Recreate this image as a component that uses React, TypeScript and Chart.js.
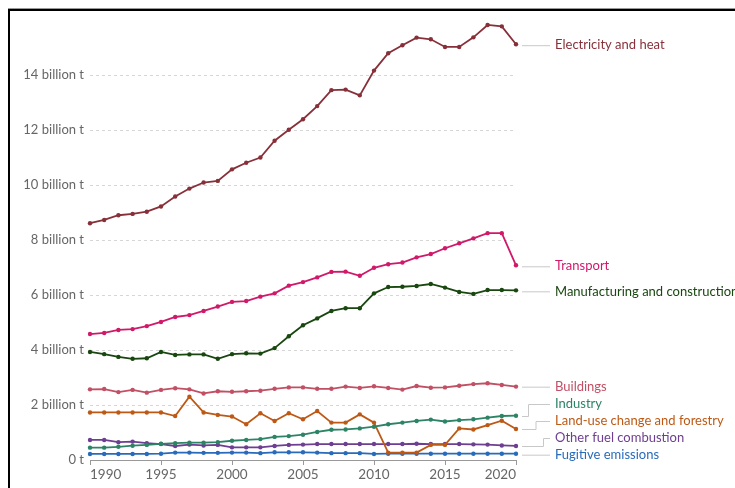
import React, { useEffect, useRef } from "react";
import { Chart, registerables } from "chart.js";

Chart.register(...registerables);

const years = [1990, 1991, 1992, 1993, 1994, 1995, 1996, 1997, 1998, 1999, 2000, 2001, 2002, 2003, 2004, 2005, 2006, 2007, 2008, 2009, 2010, 2011, 2012, 2013, 2014, 2015, 2016, 2017, 2018, 2019, 2020];

const electricityHeat = [8.61, 8.73, 8.9, 8.95, 9.03, 9.22, 9.58, 9.87, 10.09, 10.15, 10.57, 10.81, 11.0, 11.61, 12.01, 12.39, 12.87, 13.45, 13.47, 13.26, 14.16, 14.79, 15.08, 15.36, 15.3, 15.02, 15.02, 15.37, 15.82, 15.77, 15.12];
const transport = [4.58, 4.62, 4.73, 4.76, 4.87, 5.02, 5.2, 5.27, 5.42, 5.58, 5.75, 5.78, 5.94, 6.06, 6.34, 6.47, 6.64, 6.84, 6.85, 6.7, 6.99, 7.12, 7.18, 7.37, 7.49, 7.7, 7.88, 8.06, 8.25, 8.25, 7.08];
const manufacturing = [3.93, 3.85, 3.75, 3.68, 3.7, 3.93, 3.82, 3.84, 3.84, 3.68, 3.85, 3.88, 3.87, 4.07, 4.5, 4.9, 5.15, 5.42, 5.52, 5.52, 6.06, 6.29, 6.3, 6.33, 6.4, 6.27, 6.11, 6.04, 6.18, 6.18, 6.17];
const buildings = [2.57, 2.58, 2.47, 2.55, 2.45, 2.55, 2.61, 2.57, 2.42, 2.5, 2.48, 2.5, 2.52, 2.59, 2.64, 2.64, 2.59, 2.59, 2.67, 2.62, 2.68, 2.62, 2.56, 2.69, 2.63, 2.64, 2.7, 2.76, 2.79, 2.73, 2.67];
const industry = [0.45, 0.45, 0.48, 0.52, 0.55, 0.59, 0.61, 0.63, 0.63, 0.65, 0.7, 0.73, 0.76, 0.84, 0.87, 0.92, 1.02, 1.1, 1.11, 1.15, 1.21, 1.3, 1.36, 1.42, 1.47, 1.4, 1.45, 1.48, 1.54, 1.6, 1.61];
const landUse = [1.73, 1.73, 1.73, 1.73, 1.73, 1.73, 1.6, 2.3, 1.73, 1.64, 1.58, 1.3, 1.7, 1.42, 1.7, 1.48, 1.78, 1.36, 1.36, 1.66, 1.36, 0.27, 0.27, 0.27, 0.55, 0.55, 1.15, 1.11, 1.27, 1.43, 1.13];
const otherFuel = [0.73, 0.73, 0.65, 0.67, 0.61, 0.58, 0.51, 0.56, 0.53, 0.55, 0.46, 0.46, 0.46, 0.51, 0.55, 0.56, 0.58, 0.58, 0.58, 0.58, 0.58, 0.58, 0.58, 0.59, 0.58, 0.58, 0.58, 0.57, 0.56, 0.53, 0.51];
const fugitive = [0.22, 0.22, 0.22, 0.22, 0.22, 0.23, 0.27, 0.27, 0.26, 0.26, 0.27, 0.27, 0.25, 0.28, 0.28, 0.28, 0.27, 0.25, 0.25, 0.25, 0.22, 0.23, 0.23, 0.23, 0.23, 0.23, 0.23, 0.23, 0.23, 0.23, 0.23];

const seriesNames = ["Electricity and heat", "Transport", "Manufacturing and construction", "Buildings", "Industry", "Land-use change and forestry", "Other fuel combustion", "Fugitive emissions"];
const seriesValues = [electricityHeat, transport, manufacturing, buildings, industry, landUse, otherFuel, fugitive];
const seriesColors = ["#883039", "#D1196A", "#18470F", "#C15065", "#2C8465", "#BE5915", "#6D3E91", "#286BBB"];

const yTicks = [0, 2, 4, 6, 8, 10, 12, 14];
const FONT = "Lato, 'Open Sans', sans-serif";

const endLabels = {
  id: "endLabels",
  afterDatasetsDraw(chart: any) {
    const { ctx, chartArea } = chart;
    const yScale = chart.scales.y;
    const spacing = 17;
    const items = chart.data.datasets.map((ds: any, i: number) => {
      const last = ds.data[ds.data.length - 1];
      const y = yScale.getPixelForValue(last.y);
      return { i, endY: y, labelY: y, color: ds.borderColor, text: ds.label };
    });
    const sorted = [...items].sort((a, b) => b.endY - a.endY);
    for (let k = 1; k < sorted.length; k++) {
      sorted[k].labelY = Math.min(sorted[k].endY, sorted[k - 1].labelY - spacing);
    }
    const x0 = chartArea.right + 6;
    const x1 = chartArea.right + 34;
    const tx = chartArea.right + 39;
    ctx.save();
    ctx.font = `13px ${FONT}`;
    ctx.textBaseline = "middle";
    ctx.textAlign = "left";
    let elbow = 0;
    const ordered = [...items].sort((a, b) => a.endY - b.endY);
    ordered.forEach((it: any) => {
      const ly = it.labelY + 1;
      ctx.strokeStyle = "#c8c8c8";
      ctx.lineWidth = 1;
      ctx.beginPath();
      if (Math.abs(ly - it.endY) < 2.5) {
        ctx.moveTo(x0, ly + 0.5);
        ctx.lineTo(x1, ly + 0.5);
      } else {
        const ex = chartArea.right + 12 + elbow * 7.5;
        elbow++;
        ctx.moveTo(x0, Math.round(it.endY) + 0.5);
        ctx.lineTo(ex + 0.5, Math.round(it.endY) + 0.5);
        ctx.lineTo(ex + 0.5, Math.round(ly) + 0.5);
        ctx.lineTo(x1, Math.round(ly) + 0.5);
      }
      ctx.stroke();
      ctx.fillStyle = it.color;
      ctx.fillText(it.text, tx, ly);
    });
    ctx.restore();
  },
};

export default function App() {
  const ref = useRef<HTMLCanvasElement | null>(null);
  useEffect(() => {
    if (!ref.current) return;
    const datasets = seriesNames.map((name, i) => ({
      label: name,
      data: years.map((yr, j) => ({ x: yr, y: seriesValues[i][j] })),
      borderColor: seriesColors[i],
      backgroundColor: seriesColors[i],
      borderWidth: 1.8,
      pointRadius: 2.2,
      pointBorderWidth: 0,
      pointHoverRadius: 2.2,
      tension: 0,
      clip: false as any,
    }));
    const chart = new Chart(ref.current, {
      type: "line",
      data: { datasets },
      options: {
        animation: false,
        responsive: false,
        devicePixelRatio: 1,
        layout: { padding: { top: 20, right: 219, bottom: 0, left: 8 } },
        plugins: { legend: { display: false }, tooltip: { enabled: false } },
        scales: {
          x: {
            type: "linear",
            min: 1990,
            max: 2020,
            afterFit(scale: any) {
              scale.height = 28;
            },
            ticks: {
              stepSize: 5,
              align: "inner",
              color: "#666",
              padding: 2,
              maxRotation: 0,
              font: { family: FONT, size: 13.5 },
              callback: (v: any) => String(v),
            },
            grid: { drawOnChartArea: false, drawTicks: true, tickLength: 5, color: "#999" },
            border: { display: true, color: "#999" },
          },
          y: {
            min: 0,
            max: 16,
            afterFit(scale: any) {
              scale.width = 82;
            },
            afterBuildTicks(scale: any) {
              scale.ticks = yTicks.map((v) => ({ value: v }));
            },
            ticks: {
              color: "#666",
              padding: 6,
              font: { family: FONT, size: 13 },
              callback: (v: any) => (v === 0 ? "0 t" : `${v} billion t`),
            },
            grid: {
              drawTicks: false,
              color: (c: any) => (c.tick && c.tick.value === 0 ? "rgba(0,0,0,0)" : "#d6d6d6"),
            },
            border: { display: false, dash: [3, 3] },
          },
        },
      },
      plugins: [endLabels],
    } as any);
    return () => chart.destroy();
  }, []);
  return (
    <div style={{ position: "fixed", left: 0, top: 0, width: 735, height: 488, overflow: "hidden", background: "#fff" }}>
      <div
        style={{
          position: "absolute",
          left: 8,
          top: 9,
          width: 900,
          height: 700,
          borderTop: "2px solid #000",
          borderLeft: "2px solid #000",
          boxShadow: "0 -1px 0 #999",
        }}
      />
      <canvas ref={ref} width={735} height={488} style={{ position: "absolute", left: 0, top: 0, width: 735, height: 488 }} />
    </div>
  );
}
